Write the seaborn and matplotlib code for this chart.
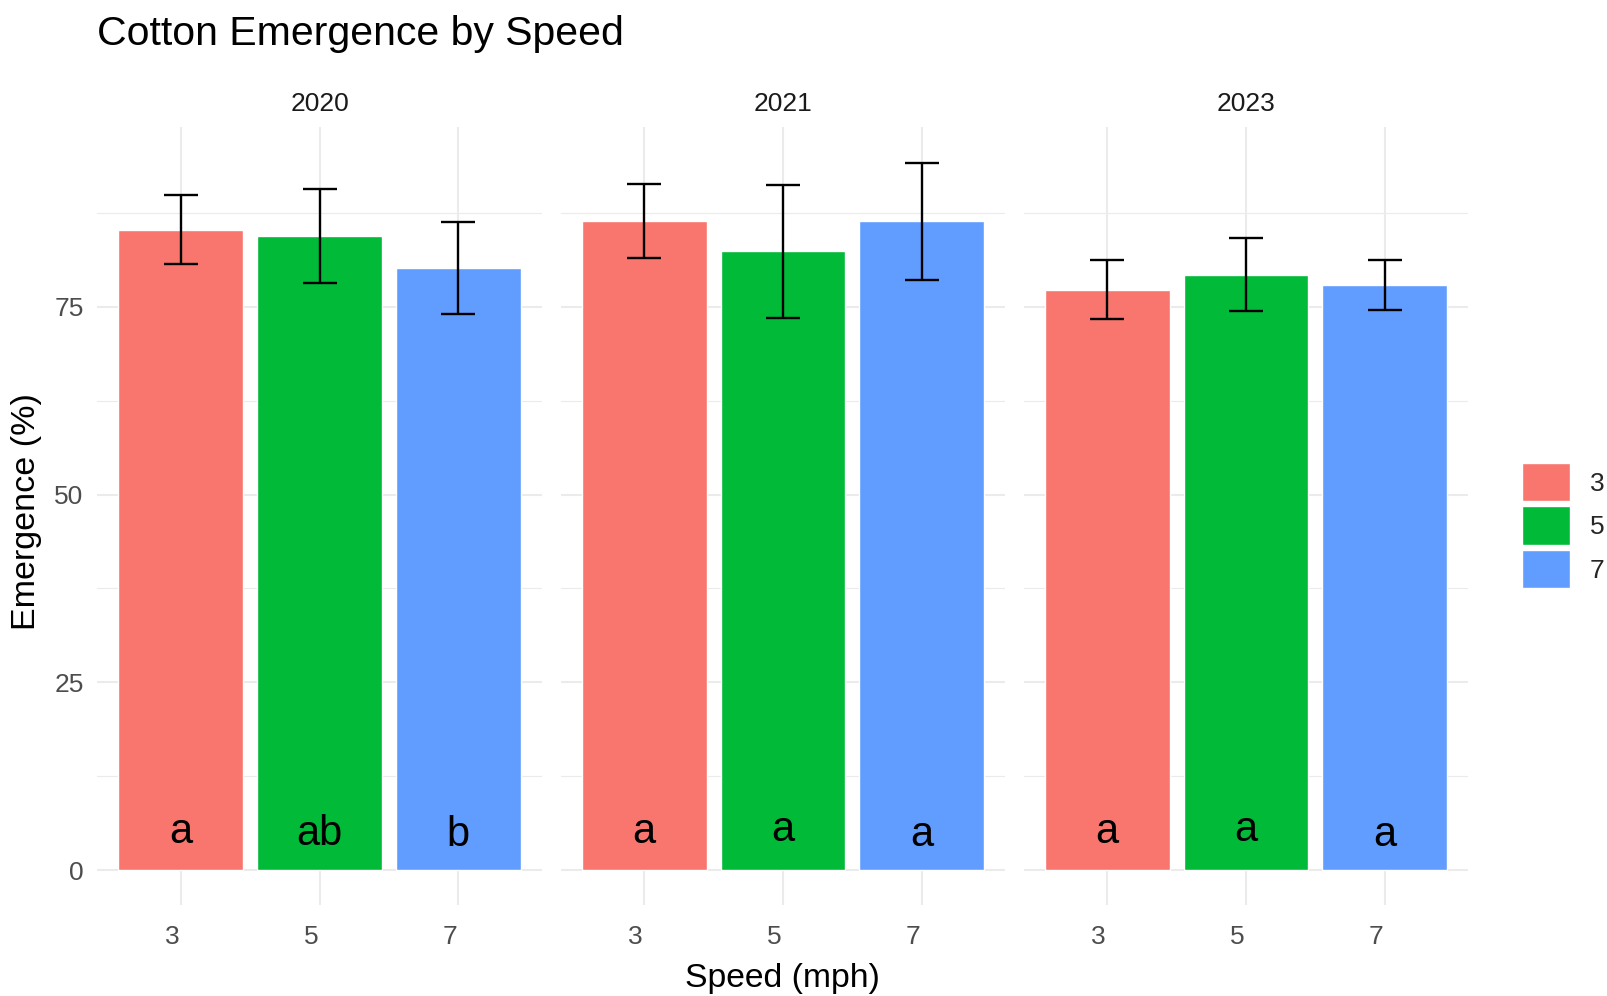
import numpy as np
import pandas as pd
import matplotlib
matplotlib.use("Agg")
import matplotlib.pyplot as plt
import matplotlib.transforms as mtransforms
from matplotlib.ticker import MultipleLocator
import seaborn as sns

# ---------------- data ----------------
years = ["2020", "2021", "2023"]
speeds = ["3", "5", "7"]
emergence_2020 = [85.3, 84.4, 80.2]
emergence_2021 = [86.4, 82.4, 86.4]
emergence_2023 = [77.3, 79.3, 77.9]
se_2020 = [4.6, 6.25, 6.1]
se_2021 = [4.95, 8.85, 7.8]
se_2023 = [3.95, 4.85, 3.3]
letters_2020 = ["a", "ab", "b"]
letters_2021 = ["a", "a", "a"]
letters_2023 = ["a", "a", "a"]
letter_y_2020 = [3.6, 3.35, 3.15]
letter_y_2021 = [3.6, 3.9, 3.2]
letter_y_2023 = [3.55, 3.9, 3.2]
palette = ["#F8766D", "#00BA38", "#619CFF"]

rows = []
for yr, em, se, lt, ly in zip(years,
                              [emergence_2020, emergence_2021, emergence_2023],
                              [se_2020, se_2021, se_2023],
                              [letters_2020, letters_2021, letters_2023],
                              [letter_y_2020, letter_y_2021, letter_y_2023]):
    for s, e, d, l, y in zip(speeds, em, se, lt, ly):
        rows.append(dict(year=yr, speed=s, emergence=e, se=d, letter=l, ly=y))
df = pd.DataFrame(rows)

# ---------------- style ----------------
sns.set_theme(style="white")
plt.rcParams["font.family"] = ["Liberation Sans", "DejaVu Sans"]

W, H = 1608, 996
fig = plt.figure(figsize=(W / 100, H / 100), dpi=100)
fig.patch.set_facecolor("white")

top_max = (df["emergence"] + df["se"]).max()
ylim = (-0.05 * top_max, top_max * 1.05)

panel_left_px = [97.5, 561, 1024]
panel_w_px = 444
ax_bottom_px = 905.4
ax_top_px = 127.4

axes = []
for i, yr in enumerate(years):
    ax = fig.add_axes([panel_left_px[i] / W, 1 - ax_bottom_px / H,
                       panel_w_px / W, (ax_bottom_px - ax_top_px) / H])
    axes.append(ax)
    sub = df[df["year"] == yr]
    sns.barplot(data=sub, x="speed", y="emergence", hue="speed",
                order=speeds, hue_order=speeds, palette=palette,
                width=0.9, errorbar=None, saturation=1,
                legend=(i == len(years) - 1), ax=ax, zorder=2)
    pos = [speeds.index(s) for s in sub["speed"]]
    ax.errorbar(pos, sub["emergence"], yerr=sub["se"], fmt="none",
                ecolor="black", elinewidth=1.7, capsize=11.9, capthick=1.7,
                zorder=3)
    for p, t, y in zip(pos, sub["letter"], sub["ly"]):
        ax.text(p, y, t, ha="center", va="baseline", fontsize=30,
                color="black", zorder=4)

    ax.set_xlim(-0.6, 2.6)
    ax.set_ylim(*ylim)
    ax.yaxis.set_major_locator(MultipleLocator(25))
    ax.yaxis.set_minor_locator(MultipleLocator(12.5))
    ax.set_axisbelow(True)
    ax.grid(True, which="major", axis="both", color="#EBEBEB", linewidth=1.5)
    ax.grid(True, which="minor", axis="y", color="#EBEBEB", linewidth=0.8)
    for sp in ax.spines.values():
        sp.set_visible(False)
    ax.set_xlabel("")
    ax.set_ylabel("")
    ax.tick_params(axis="both", which="both", length=0)
    ax.tick_params(axis="x", pad=14, labelsize=19, labelcolor="#4D4D4D")
    ax.tick_params(axis="y", pad=10, labelsize=19, labelcolor="#4D4D4D")
    if i > 0:
        ax.tick_params(axis="y", labelleft=False)
    ax.set_title(yr, fontsize=19, color="#1A1A1A", pad=12)
    ax.set_facecolor("white")

# legend (no title) at right
handles, labels = axes[-1].get_legend_handles_labels()
if axes[-1].get_legend() is not None:
    axes[-1].get_legend().remove()
fig.legend(handles, labels, loc="upper left",
           bbox_to_anchor=(1521.7 / W, 1 - 463 / H), bbox_transform=fig.transFigure,
           frameon=False, borderpad=0, borderaxespad=0, fontsize=19,
           handlelength=1.82, handleheight=1.85, labelspacing=0.2,
           handletextpad=0.75)

# shift x tick labels slightly left (as in the reference)
offset = mtransforms.ScaledTranslation(-8.5 / 100, 0, fig.dpi_scale_trans)
fig.canvas.draw()
for ax in axes:
    for lab in ax.get_xticklabels():
        lab.set_transform(lab.get_transform() + offset)

# titles
fig.text(97 / W, 1 - 45 / H, "Cotton Emergence by Speed", fontsize=29.5,
         color="black", ha="left", va="baseline")
fig.text((97.5 + 1468) / 2 / W, 1 - 978 / H, "Speed (mph)", fontsize=24.3,
         color="black", ha="center", va="center")
fig.text(27 / W, 1 - 512 / H, "Emergence (%)", fontsize=24.5, rotation=90,
         color="black", ha="center", va="center")

fig.savefig("out.png", dpi=100, facecolor="white")
